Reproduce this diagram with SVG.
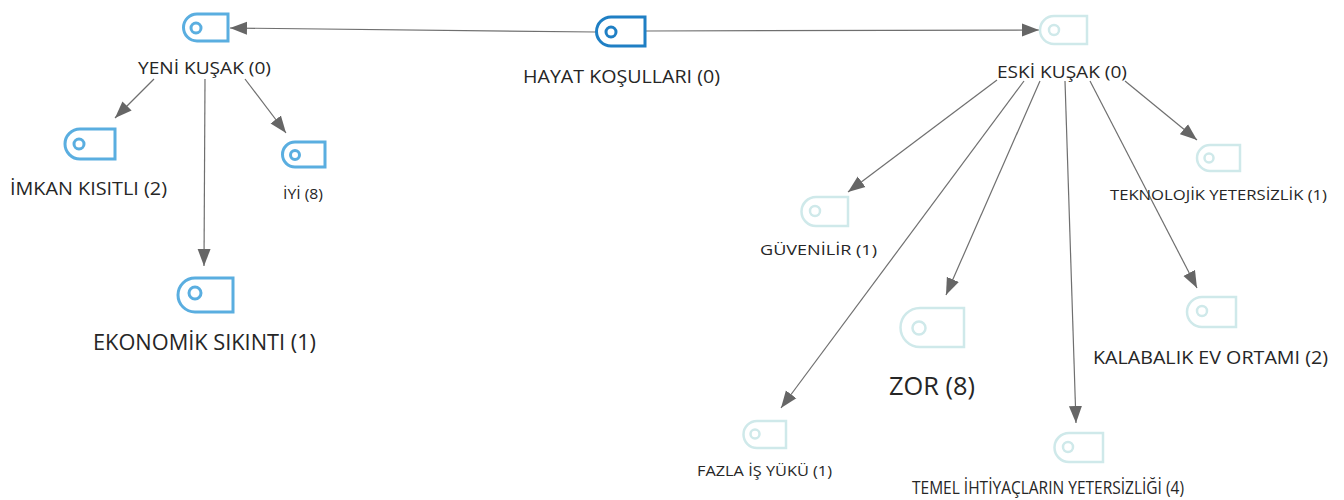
<svg xmlns="http://www.w3.org/2000/svg" width="1344" height="500" viewBox="0 0 1344 500">
<style>
text{font-family:"Open Sans","Noto Sans","Liberation Sans",sans-serif;fill:#262626}
.sh{fill:#fff;stroke-width:3}
.dot{fill:none;stroke-width:3}
.a .sh,.a .dot{stroke:#5aaee0}
.b .sh,.b .dot{stroke:#1f7fc4}
.c .sh,.c .dot{stroke:#cfe9ea;stroke-width:2.5}
#links line{stroke:#6f6f6f;stroke-width:1.2;marker-end:url(#arr)}
</style>
<defs>
<marker id="arr" markerUnits="userSpaceOnUse" markerWidth="20" markerHeight="14" refX="17" refY="7" orient="auto"><path d="M0 0.500L17 7L0 13.500Z" fill="#666"/></marker>
</defs>
<rect width="1344" height="500" fill="#fff"/>
<g id="links">
<line x1="596" y1="32" x2="230" y2="28"/>
<line x1="646" y1="31" x2="1039" y2="30"/>
<line x1="154" y1="79" x2="115" y2="118"/>
<line x1="205" y1="79" x2="204" y2="266"/>
<line x1="245" y1="79" x2="286" y2="133"/>
<line x1="997" y1="80" x2="848" y2="192"/>
<line x1="1024" y1="81" x2="781" y2="408"/>
<line x1="1040" y1="81" x2="946" y2="295"/>
<line x1="1065" y1="81" x2="1076" y2="423"/>
<line x1="1090" y1="81" x2="1197" y2="288"/>
<line x1="1125" y1="81" x2="1197" y2="140"/>
</g>
<g id="hayat" class="b"><path class="sh" d="M645 17V46H611A14.500 14.500 0 0 1 611 17Z"/><circle class="dot" cx="611" cy="32" r="5"/><text x="523" y="83" font-size="18.500" textLength="197" lengthAdjust="spacingAndGlyphs">HAYAT KOŞULLARI (0)</text></g>
<g id="yeni" class="a"><path class="sh" d="M228 14V41H197A13.500 13.500 0 0 1 197 14Z"/><circle class="dot" cx="196" cy="28" r="5"/><text x="138" y="74" font-size="17" textLength="133" lengthAdjust="spacingAndGlyphs">YENİ KUŞAK (0)</text></g>
<g id="imkan" class="a"><path class="sh" d="M115 129V159H80A15 15 0 0 1 80 129Z"/><circle class="dot" cx="79" cy="144" r="5"/><text x="10" y="195" font-size="18.500" textLength="157" lengthAdjust="spacingAndGlyphs">İMKAN KISITLI (2)</text></g>
<g id="iyi" class="a"><path class="sh" d="M325 142V167H295A12.500 12.500 0 0 1 295 142Z"/><circle class="dot" cx="295" cy="155" r="4.500"/><text x="283" y="199" font-size="14.500" textLength="40" lengthAdjust="spacingAndGlyphs">İYİ (8)</text></g>
<g id="ekonomik" class="a"><path class="sh" d="M233 278V312H195A17 17 0 0 1 195 278Z"/><circle class="dot" cx="195" cy="293" r="6"/><text x="93" y="350" font-size="21" textLength="223" lengthAdjust="spacingAndGlyphs">EKONOMİK SIKINTI (1)</text></g>
<g id="eski" class="c"><path class="sh" d="M1087 16V44H1054A14 14 0 0 1 1054 16Z"/><circle class="dot" cx="1054" cy="30" r="5"/><text x="997" y="78" font-size="17" textLength="130" lengthAdjust="spacingAndGlyphs">ESKİ KUŞAK (0)</text></g>
<g id="teknolojik" class="c"><path class="sh" d="M1240 145V171H1210A13 13 0 0 1 1210 145Z"/><circle class="dot" cx="1209" cy="158" r="4.500"/><text x="1110" y="200" font-size="15" textLength="217" lengthAdjust="spacingAndGlyphs">TEKNOLOJİK YETERSİZLİK (1)</text></g>
<g id="guvenilir" class="c"><path class="sh" d="M848 197V226H816A14.500 14.500 0 0 1 816 197Z"/><circle class="dot" cx="815" cy="211" r="5"/><text x="760" y="255" font-size="14" textLength="117" lengthAdjust="spacingAndGlyphs">GÜVENİLİR (1)</text></g>
<g id="kalabalik" class="c"><path class="sh" d="M1236 297V327H1202A15 15 0 0 1 1202 297Z"/><circle class="dot" cx="1202" cy="311" r="5"/><text x="1093" y="364" font-size="18.500" textLength="235" lengthAdjust="spacingAndGlyphs">KALABALIK EV ORTAMI (2)</text></g>
<g id="zor" class="c"><path class="sh" d="M964 308V347H920A19.500 19.500 0 0 1 920 308Z"/><circle class="dot" cx="919" cy="328" r="6.500"/><text x="889" y="395" font-size="25.500" textLength="86" lengthAdjust="spacingAndGlyphs">ZOR (8)</text></g>
<g id="fazla" class="c"><path class="sh" d="M786 421V448H757A13.500 13.500 0 0 1 757 421Z"/><circle class="dot" cx="755" cy="434" r="4.500"/><text x="697" y="476" font-size="15" textLength="135" lengthAdjust="spacingAndGlyphs">FAZLA İŞ YÜKÜ (1)</text></g>
<g id="temel" class="c"><path class="sh" d="M1103 433V462H1069A14.500 14.500 0 0 1 1069 433Z"/><circle class="dot" cx="1068" cy="447" r="5"/><text x="912" y="494" font-size="18" textLength="272" lengthAdjust="spacingAndGlyphs">TEMEL İHTİYAÇLARIN YETERSİZLİĞİ (4)</text></g>
</svg>
